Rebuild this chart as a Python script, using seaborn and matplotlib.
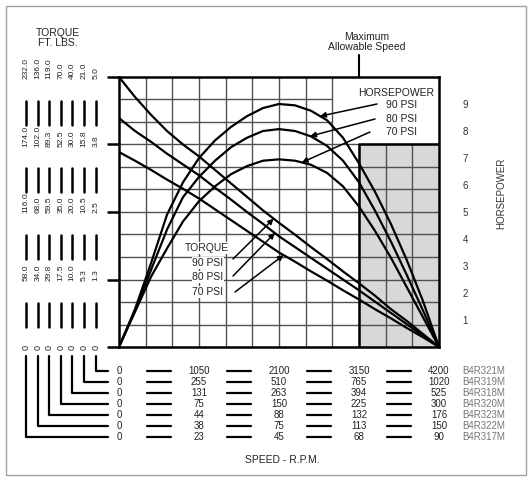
import numpy as np
import matplotlib.pyplot as plt
import matplotlib.transforms as mtransforms
from matplotlib.patches import Rectangle
from matplotlib.lines import Line2D
import seaborn as sns

# speed on the B4R321M scale (rpm)
rpm = [0, 210, 420, 630, 840, 1050, 1260, 1470, 1680, 1890, 2100,
       2310, 2520, 2730, 2940, 3150, 3360, 3570, 3780, 3990, 4200]

# horsepower curves
hp_90 = [0, 1.4, 3.1, 4.9, 6.1, 7.0, 7.65, 8.15, 8.55, 8.85, 9.0,
         8.95, 8.75, 8.4, 7.75, 6.8, 5.75, 4.55, 3.2, 1.7, 0]
hp_80 = [0, 1.35, 2.85, 4.35, 5.55, 6.3, 6.9, 7.4, 7.75, 8.0, 8.07,
         8.0, 7.8, 7.45, 6.9, 6.1, 5.05, 3.9, 2.65, 1.35, 0]
hp_70 = [0, 1.3, 2.6, 3.65, 4.65, 5.4, 5.95, 6.4, 6.7, 6.9, 6.95,
         6.9, 6.75, 6.45, 5.95, 5.2, 4.3, 3.3, 2.2, 1.1, 0]

# torque curves (ft. lbs., B4R321M scale)
torque_90 = [5.0, 4.63, 4.3, 4.0, 3.75, 3.53, 3.28, 3.03, 2.78, 2.53, 2.3,
             2.08, 1.85, 1.63, 1.4, 1.18, 0.95, 0.7, 0.48, 0.24, 0]
torque_80 = [4.24, 4.0, 3.8, 3.58, 3.38, 3.18, 2.95, 2.73, 2.5, 2.28, 2.05,
             1.85, 1.65, 1.45, 1.25, 1.05, 0.84, 0.63, 0.42, 0.21, 0]
torque_70 = [3.61, 3.45, 3.28, 3.1, 2.93, 2.75, 2.55, 2.35, 2.15, 1.95, 1.75,
             1.58, 1.4, 1.23, 1.05, 0.88, 0.7, 0.53, 0.35, 0.18, 0]

# torque scales for each model (left columns, top to bottom, zero omitted)
torque_cols = [
    ["232.0", "174.0", "116.0", "58.0"],
    ["136.0", "102.0", "68.0", "34.0"],
    ["119.0", "89.3", "59.5", "29.8"],
    ["70.0", "52.5", "35.0", "17.5"],
    ["40.0", "30.0", "20.0", "10.0"],
    ["21.0", "15.8", "10.5", "5.3"],
    ["5.0", "3.8", "2.5", "1.3"],
]

models = ["B4R321M", "B4R319M", "B4R318M", "B4R320M", "B4R323M", "B4R322M", "B4R317M"]
speed_rows = [
    [0, 1050, 2100, 3150, 4200],
    [0, 255, 510, 765, 1020],
    [0, 131, 263, 394, 525],
    [0, 75, 150, 225, 300],
    [0, 44, 88, 132, 176],
    [0, 38, 75, 113, 150],
    [0, 23, 45, 68, 90],
]
speed_ticks = [0, 1050, 2100, 3150, 4200]
hp_ticks = [1, 2, 3, 4, 5, 6, 7, 8, 9]

sns.set_style("white")
plt.rcParams['font.family'] = ['Liberation Sans', 'DejaVu Sans']

W, H = 532, 479
fig = plt.figure(figsize=(W / 100, H / 100), dpi=100)


def fx(x):
    return x / W


def fy(y):
    return 1 - y / H


# main axes: x 119..439 px, y 77..347 px
ax = fig.add_axes([fx(119), fy(347), 320 / W, 270 / H])
ax.set_xlim(0, 4200)
ax.set_ylim(0, 5.0)

grid_kw = dict(color='#505050', lw=1.0, zorder=1)
for k in range(1, 12):
    r = 350 * k
    ax.vlines(r, 0, 5.0 if r <= 2800 else 3.75, **grid_kw)
for j in range(1, 12):
    t = 5.0 * j / 12
    ax.hlines(t, 0, 4200 if j <= 9 else 2800, **grid_kw)

# region above maximum allowable speed
ax.add_patch(Rectangle((3150, 0), 1050, 3.75, facecolor='#d8d8d8',
                       edgecolor='none', zorder=0.5))
ax.plot([3150, 3150, 4200], [0, 3.75, 3.75], color='black', lw=1.8, zorder=3)
ax.plot([3150, 3150], [5.0, 5.0 + 22 / 270 * 5], color='black', lw=1.5,
        clip_on=False, zorder=3)

for tq in (torque_90, torque_80, torque_70):
    sns.lineplot(x=rpm, y=tq, ax=ax, color='black', lw=1.6,
                 sort=False, estimator=None, zorder=4)

ax.set_xticks(speed_ticks)
ax.set_xticklabels([])
ax.set_yticks([0, 1.25, 2.5, 3.75, 5.0])
ax.set_yticklabels([])
ax.tick_params(axis='x', length=7, width=1.8, direction='out', color='black')
ax.tick_params(axis='y', length=9, width=1.8, direction='out', color='black')
ax.set_xlabel('')
ax.set_ylabel('')
for s in ax.spines.values():
    s.set_linewidth(1.8)
    s.set_color('black')
    s.set_zorder(5)

# horsepower axis
ax2 = ax.twinx()
ax2.set_ylim(0, 10)
for hp in (hp_90, hp_80, hp_70):
    sns.lineplot(x=rpm, y=hp, ax=ax2, color='black', lw=1.6,
                 sort=False, estimator=None)
ax2.set_yticks(hp_ticks)
ax2.set_yticklabels([str(v) for v in hp_ticks], fontsize=7, color='#333333')
ax2.tick_params(axis='y', length=0, pad=17)
ax2.set_ylabel('HORSEPOWER', fontsize=7, color='#333333', labelpad=22)
ax2.yaxis.set_label_coords(1.18, 0.57)
for s in ax2.spines.values():
    s.set_visible(False)
ax.set_xlim(0, 4200)

# arrows and curve labels
arrow_kw = dict(arrowstyle='-|>', color='black', lw=1.1, mutation_scale=8,
                shrinkA=0, shrinkB=0)
for tip, curve, tail in ((2640, hp_90, (377, 104)), (2510, hp_80, (375, 119)),
                         (2400, hp_70, (370, 132))):
    ax2.annotate('', xy=(tip, np.interp(tip, rpm, curve)),
                 xytext=(tail[0], H - tail[1]), textcoords='figure pixels',
                 arrowprops=arrow_kw, zorder=6)
for tip, curve, tail in ((2030, torque_90, (233, 259)), (2045, torque_80, (233, 276)),
                         (2160, torque_70, (235, 292))):
    ax.annotate('', xy=(tip, np.interp(tip, rpm, curve)),
                xytext=(tail[0], H - tail[1]), textcoords='figure pixels',
                arrowprops=arrow_kw, zorder=6)

txt = dict(fontsize=7.5, color='#222222')
fig.text(fx(434), fy(93), 'HORSEPOWER', ha='right', va='center', **txt)
for y, s in ((105, '90 PSI'), (119, '80 PSI'), (132, '70 PSI')):
    fig.text(fx(417), fy(y), s, ha='right', va='center', **txt)
box = dict(facecolor='white', edgecolor='none', pad=0.6)
fig.text(fx(207), fy(248), 'TORQUE', ha='center', va='center', bbox=box, **txt)
for y, s in ((263, '90 PSI'), (277, '80 PSI'), (292, '70 PSI')):
    fig.text(fx(208), fy(y), s, ha='center', va='center', bbox=box, **txt)

fig.text(fx(367), fy(42), 'Maximum\nAllowable Speed', ha='center', va='center',
         linespacing=1.0, **txt)
fig.text(fx(58), fy(38), 'TORQUE\nFT. LBS.', ha='center', va='center',
         linespacing=1.0, **txt)
fig.text(fx(282), fy(460), 'SPEED - R.P.M.', ha='center', va='center', **txt)

# left torque columns
col_x = [26, 38, 49, 61, 72, 84, 96]
level_y = [78, 146, 212, 280, 347]
for k, labels in enumerate(torque_cols):
    x = col_x[k]
    for lab, y in zip(labels, level_y[:4]):
        fig.text(fx(x), fy(y + 1), lab, rotation=90, ha='center', va='bottom',
                 fontsize=6, color='#222222')
    fig.text(fx(x), fy(level_y[4]), '0', rotation=90, ha='center', va='center',
             fontsize=6.5, color='#222222')
    for i in range(4):
        c = (level_y[i] + level_y[i + 1]) / 2 + 1
        fig.add_artist(Line2D([fx(x), fx(x)], [fy(c - 12), fy(c + 12)],
                              color='black', lw=1.8))
    # connector down to the speed row of this model
    row = 6 - k
    ry = 371 + 11 * row
    fig.add_artist(Line2D([fx(x), fx(x), fx(108)], [fy(356), fy(ry), fy(ry)],
                          color='black', lw=1.6))

# speed rows under the axis
blend = mtransforms.blended_transform_factory(ax.transData, fig.transFigure)
dash_mid = [525, 1575, 2625, 3675]
for r, (name, speeds) in enumerate(zip(models, speed_rows)):
    ry = 371 + 11 * r
    for sx, v in zip(speed_ticks, speeds):
        ax.text(sx, fy(ry), str(v), transform=blend, ha='center', va='center',
                fontsize=7, color='#222222', clip_on=False)
    for m in dash_mid:
        ax.plot([m - 155, m + 155], [fy(ry), fy(ry)], transform=blend,
                color='black', lw=1.6, clip_on=False)
    fig.text(fx(462), fy(ry), name, ha='left', va='center', fontsize=7,
             color='#777777')

fig.add_artist(Rectangle((fx(6), fy(475)), 520 / W, 469 / H,
                         transform=fig.transFigure, fill=False,
                         edgecolor='#a0a0a0', lw=1.0))

fig.savefig('out.png', dpi=100)
